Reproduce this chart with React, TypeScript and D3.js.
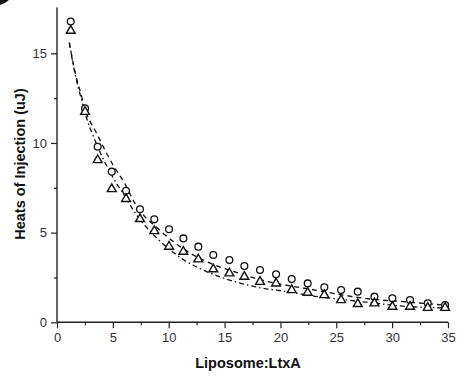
import React, { useEffect, useRef } from 'react';
import * as d3 from 'd3';

// molar ratio of each injection
const ratios = [1.23, 2.51, 3.64, 4.9, 6.18, 7.43, 8.71, 10.03, 11.31, 12.65, 13.99, 15.43, 16.77, 18.17, 19.61, 21.01, 22.44, 23.93, 25.43, 26.92, 28.41, 30.02, 31.6, 33.19, 34.74];
const circleHeats = [16.77, 11.93, 9.79, 8.4, 7.34, 6.3, 5.74, 5.19, 4.68, 4.22, 3.75, 3.47, 3.14, 2.92, 2.68, 2.41, 2.17, 1.95, 1.8, 1.71, 1.43, 1.34, 1.24, 1.06, 0.96];
const triangleHeats = [16.26, 11.74, 9.05, 7.43, 6.88, 5.76, 5.09, 4.22, 3.94, 3.51, 2.96, 2.73, 2.54, 2.26, 2.17, 1.8, 1.65, 1.52, 1.24, 1.02, 1.06, 0.87, 0.87, 0.81, 0.81];

// fitted curves
const fitRatios = [1.1, 1.6, 2.2, 2.5, 3.5, 4.9, 6.1, 7.0, 9.1, 11.3, 13.7, 16, 18, 20.7, 23.1, 25.8, 28, 31, 34.8];
const circleFit = [15.6, 14.0, 12.6, 11.9, 10.6, 8.9, 7.7, 6.6, 5.2, 4.1, 3.3, 2.8, 2.4, 2.05, 1.8, 1.5, 1.3, 1.15, 0.95];
const triangleFit = [15.6, 13.9, 12.4, 11.7, 10.0, 8.2, 7.0, 6.1, 4.6, 3.5, 2.75, 2.25, 1.95, 1.7, 1.45, 1.25, 1.1, 0.9, 0.8];

const xTicks = [0, 5, 10, 15, 20, 25, 30, 35];
const yTicks = [0, 5, 10, 15];

const W = 461, H = 380;
const font = 'Liberation Sans, Arial, sans-serif';

export default function App() {
  const ref = useRef<SVGSVGElement>(null);

  useEffect(() => {
    const svg = d3.select(ref.current);
    svg.selectAll('*').remove();

    const x = d3.scaleLinear().domain([0, 35]).range([57, 448]);
    const y = d3.scaleLinear().domain([0, 17.55]).range([322.3, 7.6]);

    // bit of panel letter cut off in the corner
    svg.append('path').attr('d', 'M0,0 L9,0 Q6,3 0,5 Z').attr('fill', '#111');

    // axes
    const xAxis = d3.axisBottom(x).tickValues(xTicks).tickSize(6).tickPadding(4).tickFormat(d3.format('d'));
    const xMinor = d3.axisBottom(x).tickValues(d3.range(2.5, 35, 5)).tickSize(3).tickFormat(() => '');
    const yAxis = d3.axisLeft(y).tickValues(yTicks).tickSize(6).tickPadding(4).tickFormat(d3.format('d'));
    const yMinor = d3.axisLeft(y).tickValues([2.5, 7.5, 12.5]).tickSize(3).tickFormat(() => '');

    const gx = svg.append('g').attr('transform', `translate(0,${y(0)})`).call(xAxis);
    svg.append('g').attr('transform', `translate(0,${y(0)})`).call(xMinor).select('.domain').remove();
    const gy = svg.append('g').attr('transform', `translate(${x(0)},0)`).call(yAxis);
    svg.append('g').attr('transform', `translate(${x(0)},0)`).call(yMinor).select('.domain').remove();

    [gx, gy].forEach(g => {
      g.select('.domain').attr('stroke', '#222').attr('stroke-width', 1.4);
      g.selectAll('.tick text').style('font-family', font).style('font-size', '13px').attr('fill', '#333');
    });
    gx.select('.domain').attr('d', `M${x(0)},0H${x(35)}`);
    gy.select('.domain').attr('d', `M0,${y(0)}V${y(17.55)}`);
    svg.selectAll('.tick line').attr('stroke', '#222').attr('stroke-width', 1.2);

    // fit lines
    const line = d3.line<number>()
      .x((_, i) => x(fitRatios[i]))
      .y(d => y(d))
      .curve(d3.curveMonotoneX);
    svg.append('path').attr('d', line(circleFit)).attr('fill', 'none')
      .attr('stroke', '#111').attr('stroke-width', 1.3).attr('stroke-dasharray', '5,4');
    svg.append('path').attr('d', line(triangleFit)).attr('fill', 'none')
      .attr('stroke', '#111').attr('stroke-width', 1.3).attr('stroke-dasharray', '5,3,1.5,3');

    // markers
    svg.append('g').selectAll('circle').data(circleHeats).join('circle')
      .attr('cx', (_, i) => x(ratios[i])).attr('cy', d => y(d)).attr('r', 3.4)
      .attr('fill', 'white').attr('stroke', '#111').attr('stroke-width', 1.3);
    const tri = d3.symbol().type(d3.symbolTriangle).size(34);
    svg.append('g').selectAll('path').data(triangleHeats).join('path')
      .attr('d', tri())
      .attr('transform', (d, i) => `translate(${x(ratios[i])},${y(d)})`)
      .attr('fill', 'white').attr('stroke', '#111').attr('stroke-width', 1.4);

    // titles
    svg.append('text').attr('x', 248).attr('y', 368).attr('text-anchor', 'middle')
      .style('font-family', font).style('font-size', '14.5px').style('font-weight', 'bold').attr('fill', '#111')
      .text('Liposome:LtxA');
    svg.append('text').attr('transform', 'translate(25,164) rotate(-90)').attr('text-anchor', 'middle')
      .style('font-family', font).style('font-size', '14.5px').style('font-weight', 'bold').attr('fill', '#111')
      .text('Heats of Injection (uJ)');
  }, []);

  return (
    <svg ref={ref} width={W} height={H}
      style={{ position: 'absolute', left: 0, top: 0, background: 'white' }} />
  );
}
